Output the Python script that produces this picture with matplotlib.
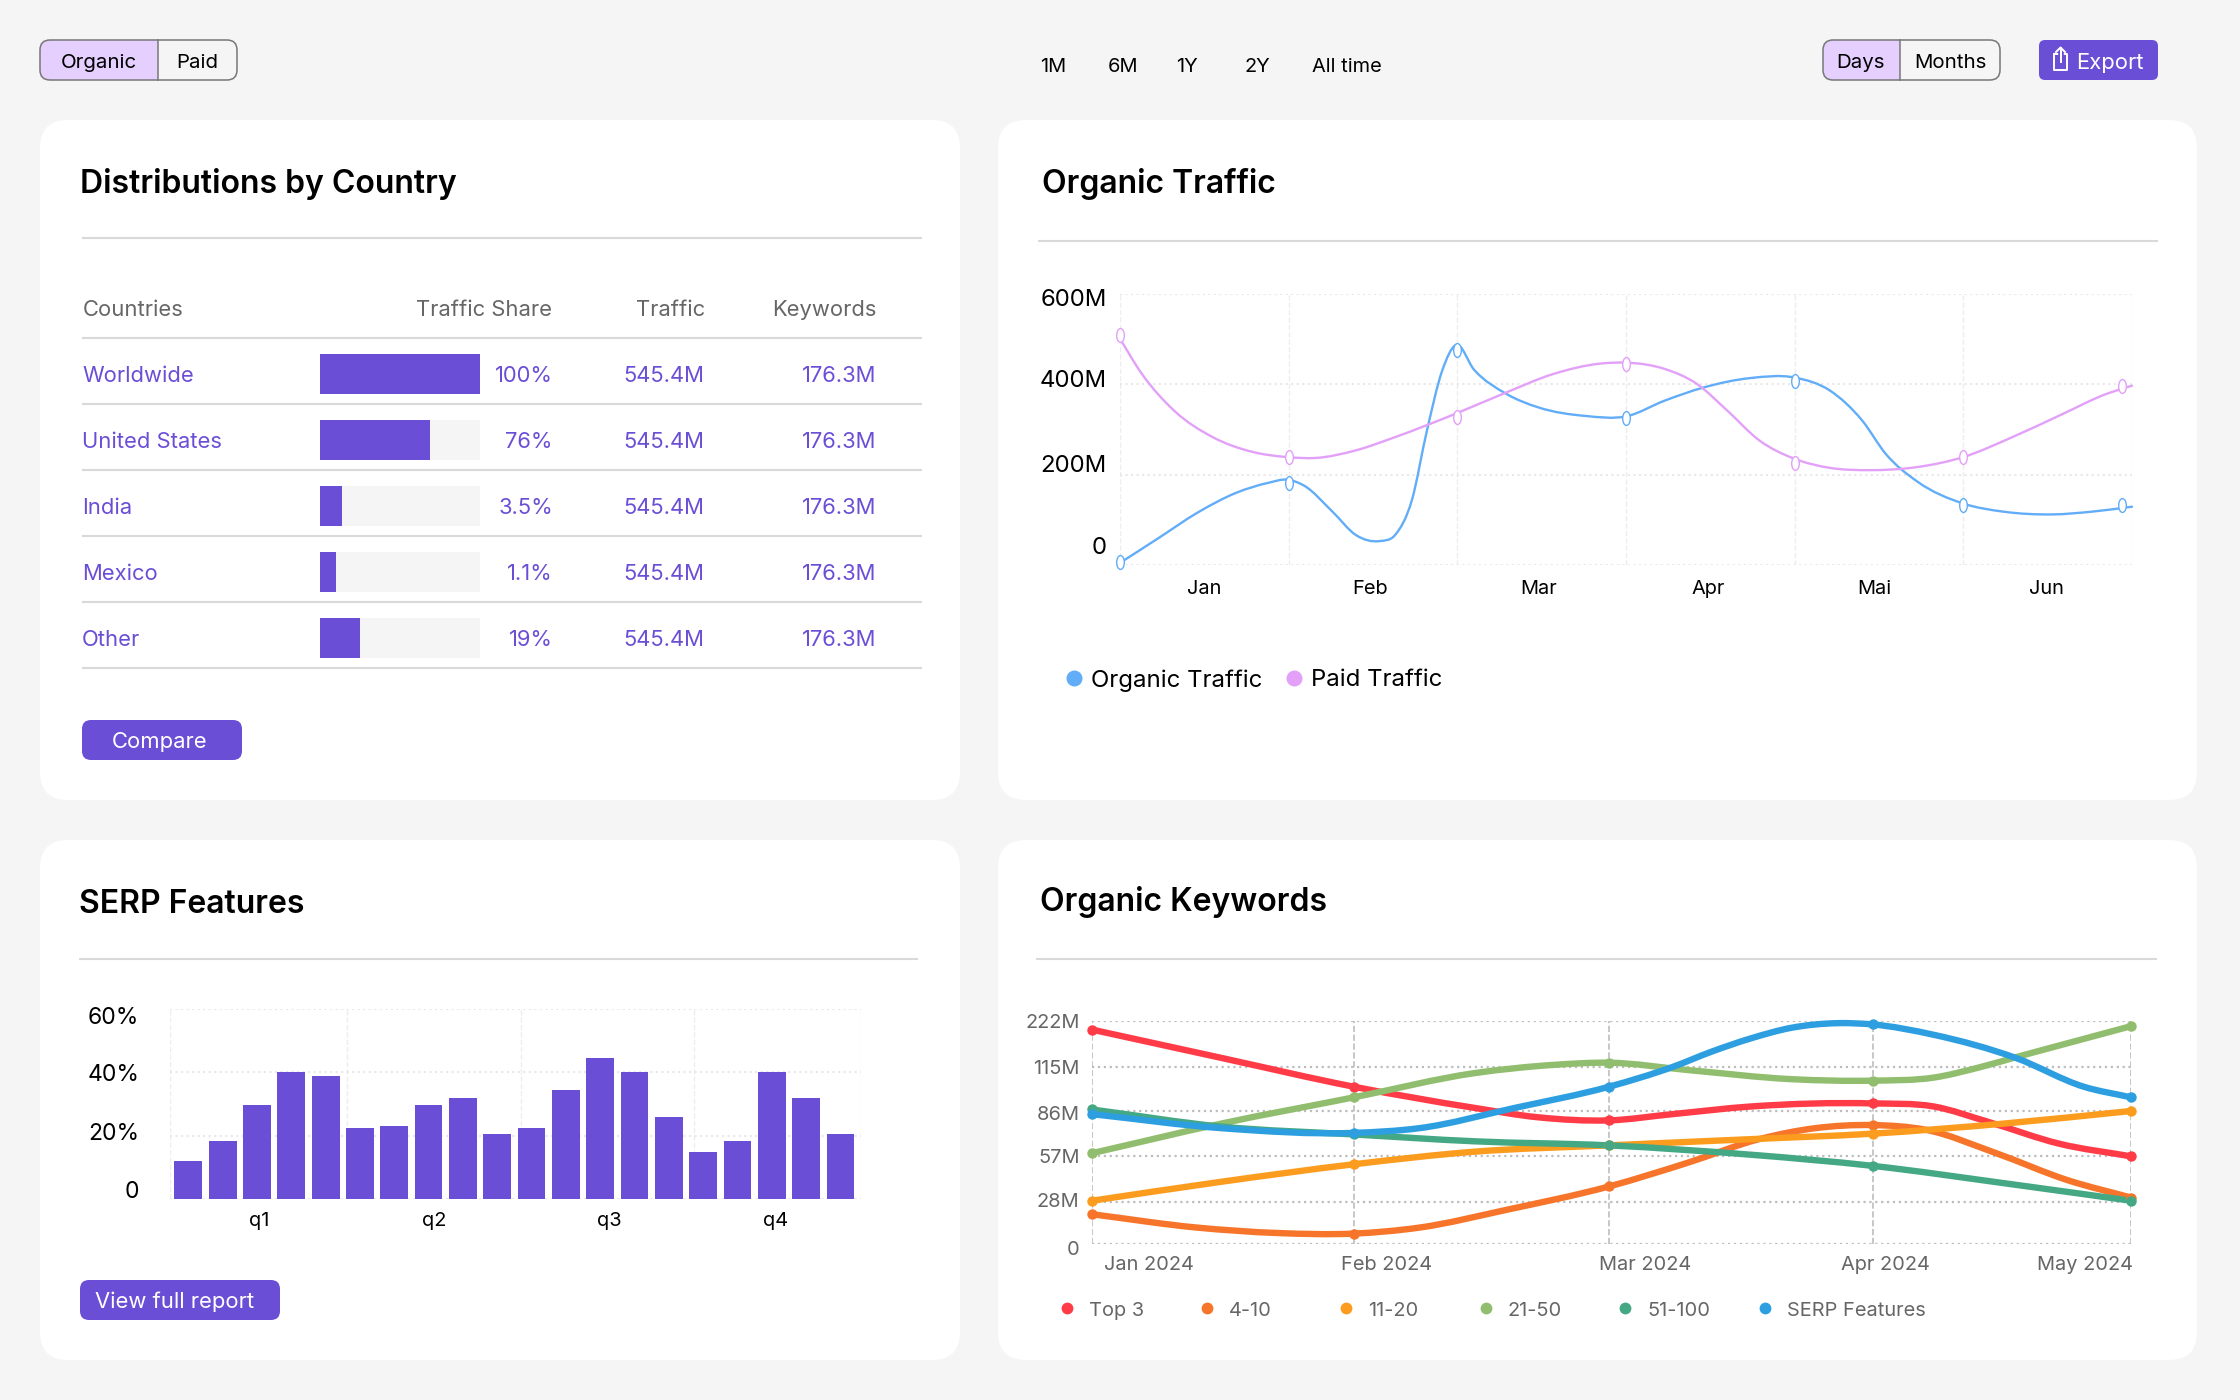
"""Dashboard with a country table, two line charts and a bar chart."""

import matplotlib
matplotlib.use("Agg")
import matplotlib.pyplot as plt
import numpy as np
from matplotlib.markers import MarkerStyle
from matplotlib.patches import FancyBboxPatch, PathPatch, Rectangle
from matplotlib.path import Path
from matplotlib.transforms import Affine2D

plt.rcParams["font.family"] = ["Inter", "DejaVu Sans"]

W, H = 2240, 1400
BG = "#F5F5F5"
PURPLE = "#6B4ED6"
LILAC = "#E5CFFF"
RULE = "#D9D9D9"
GREY = "#666666"

# Table
countries = ["Worldwide", "United States", "India", "Mexico", "Other"]
share_labels = ["100%", "76%", "3.5%", "1.1%", "19%"]
share_bars = [100, 68.5, 13.5, 10, 24.7]
traffic = ["545.4M"] * 5
keywords = ["176.3M"] * 5

# Organic Traffic
months = ["Jan", "Feb", "Mar", "Apr", "Mai", "Jun"]
month_pos = [0.497, 1.482, 2.48, 3.49, 4.47, 5.49]
traffic_ticks = [0, 200, 400, 600]
traffic_labels = ["0", "200M", "400M", "600M"]
organic_x = [0.01, 0.23, 0.46, 0.69, 0.88, 0.99, 1.09, 1.26, 1.40, 1.54, 1.63, 1.73, 1.82, 1.91, 1.99,
             2.10, 2.29, 2.48, 2.76, 3.00, 3.23, 3.46, 3.74, 4.00, 4.21, 4.40, 4.54, 4.73, 5.00, 5.24,
             5.53, 5.76, 6.00]
organic_y = [7, 60, 116, 160, 182, 189, 176, 118, 66, 53, 66, 143, 298, 430, 487, 432, 379, 349, 330, 329,
             364, 393, 414, 415, 386, 320, 246, 184, 136, 118, 112, 118, 129]
paid_x = [-0.01, 0.13, 0.32, 0.55, 0.79, 0.99, 1.16, 1.40, 1.63, 1.99, 2.29, 2.57, 2.85, 3.00, 3.23, 3.42,
          3.60, 3.79, 4.00, 4.21, 4.45, 4.73, 5.00, 5.29, 5.57, 5.85, 6.00]
paid_y = [507, 423, 342, 283, 250, 239, 237, 254, 283, 335, 382, 423, 446, 448, 434, 401, 342, 276, 235,
          215, 210, 217, 239, 283, 331, 379, 397]
marker_x = [0, 1, 2, 3, 4, 5, 5.94]
organic_marks = [6, 182, 476, 326, 408, 132, 132]
paid_marks = [509, 239, 327, 446, 226, 239, 397]

# SERP Features
serp_values = [11.9, 18.2, 29.7, 40.2, 38.7, 22.5, 23, 29.7, 31.8, 20.5,
               22.5, 34.3, 44.4, 40.2, 25.9, 15, 18.2, 40.2, 31.8, 20.5]
serp_ticks = [0, 20, 40, 60]
serp_labels = ["0", "20%", "40%", "60%"]
quarters = ["q1", "q2", "q3", "q4"]
quarter_pos = [2.05, 7.15, 12.27, 17.1]
quarter_grid = [-0.535, 4.62, 9.68, 14.72, 19.6]

# Organic Keywords (x in days since Jan 1, y in millions)
keyword_ticks = [0, 28, 57, 86, 115, 222]
keyword_labels = ["0", "28M", "57M", "86M", "115M", "222M"]
month_labels = ["Jan 2024", "Feb 2024", "Mar 2024", "Apr 2024", "May 2024"]
month_label_pos = [6.6, 34.3, 64.4, 92.4, 115.6]
month_grid = [0, 30.5, 60.2, 90.9, 121]
series_names = ["Top 3", "4-10", "11-20", "21-50", "51-100", "SERP Features"]
series_colors = ["#FF3B47", "#F7752A", "#FB9C1E", "#91BE6E", "#45A885", "#2D9FE0"]
top3_x = [0, 15.1, 30.5, 44.6, 51.9, 60.2, 67.6, 76.8, 90.9, 98, 104.4, 112.7, 121]
top3_y = [202, 136, 102, 88, 82, 80, 84, 89, 91, 89, 79, 65, 57]
pos4_x = [0, 12.3, 21.5, 30.5, 38.1, 48.3, 60.2, 69.4, 77.7, 84.2, 90.9, 97.1, 105.3, 113.6, 121]
pos4_y = [20, 11, 7.4, 7, 11, 23, 38, 53, 68, 75, 77, 74, 59, 42, 31]
pos11_x = [0, 15.1, 30.5, 44.6, 60.2, 76.8, 90.9, 106.3, 121]
pos11_y = [29, 41, 52, 60, 64, 68, 71.5, 78, 86]
pos21_x = [0, 15.1, 30.5, 44.6, 53.8, 60.2, 69.4, 81.4, 90.9, 98, 103.5, 108, 114.5, 121]
pos21_y = [59, 78, 95, 111, 120, 125, 113, 107, 106, 108, 115, 140, 175, 210]
pos51_x = [0, 15.1, 30.5, 44.6, 60.2, 76.8, 90.9, 106.3, 121]
pos51_y = [87, 76, 71, 66.6, 64, 58, 51, 40, 29]
serp_x = [0, 15.1, 30.5, 38.1, 49.2, 60.2, 67.6, 72.2, 76.8, 81.4, 86.9, 90.9, 98, 107.6, 115.5, 121]
serp_y = [84, 75, 72, 75, 88, 102, 115, 151, 182, 206, 217, 214, 190, 136, 102, 95]
keyword_x = [top3_x, pos4_x, pos11_x, pos21_x, pos51_x, serp_x]
keyword_y = [top3_y, pos4_y, pos11_y, pos21_y, pos51_y, serp_y]
keyword_marks = [[202, 102, 80, 91, 57], [20, 7, 38, 77, 31], [29, 52, 64, 71, 86],
                 [59, 95, 125, 106, 210], [87, 71, 64, 51, 29], [84, 72, 102, 214, 95]]


def px(size):
    """Font size in points for a size in pixels (figure is 100 dpi)."""
    return size * 0.72


def add_axes(left, top, right, bottom):
    ax = fig.add_axes([left / W, 1 - bottom / H, (right - left) / W, (bottom - top) / H])
    ax.patch.set_alpha(0)
    for spine in ax.spines.values():
        spine.set_visible(False)
    return ax


def box(x0, y0, x1, y1, radius, color, edge="none", lw=0, zorder=1):
    page.add_patch(FancyBboxPatch((x0 + radius, y0 + radius), x1 - x0 - 2 * radius, y1 - y0 - 2 * radius,
                                  boxstyle=f"round,pad={radius},rounding_size={radius}",
                                  fc=color, ec=edge, lw=lw, zorder=zorder))


def label(x, y, text, size, color="black", ha="left", weight="normal"):
    page.text(x, y, text, fontsize=px(size), color=color, ha=ha, va="center_baseline", weight=weight, zorder=5)


def rule(x0, x1, y):
    page.plot([x0, x1], [y, y], color=RULE, lw=1.5, zorder=3, solid_capstyle="butt")


def toggle(x0, split, x1, left_text, right_text, left_center, right_center):
    # Rounded outline, with the left half filled to show the active choice.
    box(x0, 40, x1, 80, 10, BG, zorder=2)
    clip = FancyBboxPatch((x0 + 10, 50), x1 - x0 - 20, 20, boxstyle="round,pad=10,rounding_size=10",
                          fc="none", ec="#777777", lw=1.1, zorder=4)
    page.add_patch(clip)
    fill = Rectangle((x0, 40), split - x0, 40, fc=LILAC, ec="none", zorder=3)
    page.add_patch(fill)
    fill.set_clip_path(clip)
    page.plot([split, split], [40, 80], color="#777777", lw=1.1, zorder=4)
    label(left_center, 61, left_text, 20.5, ha="center")
    label(right_center, 61, right_text, 20.5, ha="center")


def smooth_line(ax, xs, ys, color, lw, zorder=3):
    """Draws a curve through the read points as Bezier segments."""
    # Tangents are worked out on the axis scale, so uneven scales stay smooth.
    scale = ax.yaxis.get_transform()
    xs = np.asarray(xs, float)
    ys = scale.transform(np.asarray(ys, float))
    slopes = np.gradient(ys, xs)
    verts = [(xs[0], ys[0])]
    codes = [Path.MOVETO]
    for i in range(len(xs) - 1):
        step = (xs[i + 1] - xs[i]) / 3
        verts += [(xs[i] + step, ys[i] + slopes[i] * step),
                  (xs[i + 1] - step, ys[i + 1] - slopes[i + 1] * step),
                  (xs[i + 1], ys[i + 1])]
        codes += [Path.CURVE4, Path.CURVE4, Path.CURVE4]
    verts = np.array(verts)
    verts[:, 1] = scale.inverted().transform(verts[:, 1])
    ax.add_patch(PathPatch(Path(verts, codes), fc="none", ec=color, lw=lw, zorder=zorder,
                           capstyle="round", transform=ax.transData, clip_on=False))


def nudge_ylabels(ax, offsets):
    # The reference does not centre its y labels on the grid lines.
    for tick_label, dy in zip(ax.get_yticklabels(), offsets):
        tick_label.set_transform(tick_label.get_transform() + Affine2D().translate(0, dy))


fig = plt.figure(figsize=(W / 100, H / 100), dpi=100, facecolor=BG)
page = fig.add_axes([0, 0, 1, 1])
page.set_xlim(0, W)
page.set_ylim(H, 0)
page.axis("off")

# Cards
box(40, 120, 960, 800, 28, "white")
box(998, 120, 2197, 800, 28, "white")
box(40, 840, 960, 1360, 28, "white")
box(998, 840, 2197, 1360, 28, "white")

# Top bar
toggle(40, 158, 237, "Organic", "Paid", 99, 197)
toggle(1823, 1900, 2000, "Days", "Months", 1861, 1950)
for x, text in zip([1053, 1123, 1187, 1257, 1347], ["1M", "6M", "1Y", "2Y", "All time"]):
    label(x, 65, text, 20, ha="center")
box(2039, 40, 2158, 80, 6, PURPLE)
label(2110, 61, "Export", 22, "white", ha="center")
page.plot([2054, 2054, 2067, 2067, 2054], [54, 70, 70, 54, 54], color="white", lw=1.4, zorder=5)
page.plot([2060.5, 2060.5], [47, 62], color=PURPLE, lw=4, zorder=5)
page.plot([2060.5, 2060.5], [48, 62], color="white", lw=1.4, zorder=6)
page.plot([2056, 2060.5, 2065], [52, 47.5, 52], color="white", lw=1.4, zorder=6)

# Distributions by Country
label(80, 181, "Distributions by Country", 32, weight="semibold")
rule(82, 922, 238)
label(83, 308, "Countries", 22, GREY)
label(552, 308, "Traffic Share", 22, GREY, ha="right")
label(705, 308, "Traffic", 22, GREY, ha="right")
label(876, 308, "Keywords", 22, GREY, ha="right")
rule(82, 922, 338)
row_centers = [374, 440, 506, 572, 638]
for i, y in enumerate(row_centers):
    label(82, y, countries[i], 22, PURPLE)
    label(553, y, share_labels[i], 22, PURPLE, ha="right")
    label(704, y, traffic[i], 22, PURPLE, ha="right")
    label(876, y, keywords[i], 22, PURPLE, ha="right")
    rule(82, 922, y + 30)
    bar_ax = add_axes(320, y - 20, 480, y + 20)
    bar_ax.set_xlim(0, 100)
    bar_ax.axis("off")
    bar_ax.barh([0], [100], height=1, color=BG)
    bar_ax.barh([0], [share_bars[i]], height=1, color=PURPLE)
    bar_ax.set_ylim(-0.5, 0.5)
box(82, 720, 242, 760, 9, PURPLE)
label(160, 740, "Compare", 22, "white", ha="center")

# Organic Traffic
label(1042, 181, "Organic Traffic", 32, weight="semibold")
rule(1038, 2158, 241)
ax = add_axes(1120, 294, 2132, 565)
ax.set_xlim(0, 6)
ax.set_ylim(0, 600)
ax.set_yticks(traffic_ticks, traffic_labels, fontsize=px(24))
ax.set_xticks(month_pos, months, fontsize=px(20))
ax.set_xticks(range(7), minor=True)
ax.tick_params(which="both", length=0)
ax.tick_params(axis="y", pad=9.5)
ax.tick_params(axis="x", pad=11)
ax.grid(axis="y", color="#E8E8E8", lw=1.5, ls=":")
ax.grid(axis="x", which="minor", color="#EDEDED", lw=1, ls="--")
ax.grid(axis="x", which="major", visible=False)
ax.set_axisbelow(True)
nudge_ylabels(ax, [19, 11, 6, -4])
smooth_line(ax, organic_x, organic_y, "#62ADF7", 1.7)
smooth_line(ax, paid_x, paid_y, "#E3A0F8", 1.7)
tall_ring = MarkerStyle(Path.unit_circle().transformed(Affine2D().scale(0.55, 1)))
ax.plot(marker_x, organic_marks, ls="none", marker=tall_ring, ms=10, mfc="white", mec="#62ADF7", mew=1,
        clip_on=False, zorder=4)
ax.plot(marker_x, paid_marks, ls="none", marker=tall_ring, ms=10, mfc="white", mec="#E3A0F8", mew=1,
        clip_on=False, zorder=4)
for dot_x, text_x, text, color in [(1074, 1091, "Organic Traffic", "#62ADF7"), (1294, 1311, "Paid Traffic", "#E3A0F8")]:
    page.plot([dot_x], [678], "o", ms=11.5, color=color, mew=0, zorder=5)
    label(text_x, 678, text, 24)

# SERP Features
label(79, 901, "SERP Features", 32, weight="semibold")
rule(79, 918, 959)
ax = add_axes(170, 1009, 861, 1199)
ax.set_xlim(quarter_grid[0], quarter_grid[-1])
ax.set_ylim(0, 60)
ax.bar(range(len(serp_values)), serp_values, width=0.81, color=PURPLE, zorder=3)
ax.set_yticks(serp_ticks, serp_labels, fontsize=px(23))
ax.set_xticks(quarter_pos, quarters, fontsize=px(20))
ax.set_xticks(quarter_grid, minor=True)
ax.tick_params(which="both", length=0)
ax.tick_params(axis="y", pad=22)
ax.tick_params(axis="x", pad=9)
ax.grid(axis="y", color="#E8E8E8", lw=1.5, ls=":")
ax.grid(axis="x", which="minor", color="#EDEDED", lw=1, ls="--")
ax.grid(axis="x", which="major", visible=False)
ax.set_axisbelow(True)
nudge_ylabels(ax, [9, 4, 0, -6])
box(80, 1280, 280, 1320, 9, PURPLE)
label(175, 1300, "View full report", 22, "white", ha="center")

# Organic Keywords
label(1040, 899, "Organic Keywords", 32, weight="semibold")
rule(1036, 2157, 959)
ax = add_axes(1092, 1021, 2131, 1244)
tick_spots = [0, 125, 263, 399, 531, 669]
ax.set_yscale("function", functions=(lambda v: np.interp(v, keyword_ticks, tick_spots),
                                     lambda p: np.interp(p, tick_spots, keyword_ticks)))
ax.set_xlim(0, 121)
ax.set_ylim(0, 222)
ax.set_yticks(keyword_ticks, keyword_labels, fontsize=px(20), color=GREY)
ax.set_xticks(month_label_pos, month_labels, fontsize=px(20), color=GREY)
ax.set_xticks(month_grid, minor=True)
ax.set_yticks([], minor=True)
ax.tick_params(which="both", length=0)
ax.tick_params(axis="y", pad=9)
ax.tick_params(axis="x", pad=9)
ax.grid(axis="y", color="#BDBDBD", lw=1.6, ls=":")
ax.grid(axis="x", which="minor", color="#BDBDBD", lw=1.2, ls="--")
ax.grid(axis="x", which="major", visible=False)
ax.set_axisbelow(True)
nudge_ylabels(ax, [-4, 2, 0, -2, 0, 0])
for xs, ys, marks, color in zip(keyword_x, keyword_y, keyword_marks, series_colors):
    smooth_line(ax, xs, ys, color, 4.6)
    ax.plot(month_grid, marks, ls="none", marker="o", ms=7.5, color=color, mew=0, clip_on=False, zorder=4)
for i, (name, color) in enumerate(zip(series_names, series_colors)):
    page.plot([1067 + i * 139.6], [1308], "o", ms=8.5, color=color, mew=0, zorder=5)
    label(1089 + i * 139.6, 1309, name, 20, GREY)

fig.savefig("out.png", dpi=100, facecolor=BG)
